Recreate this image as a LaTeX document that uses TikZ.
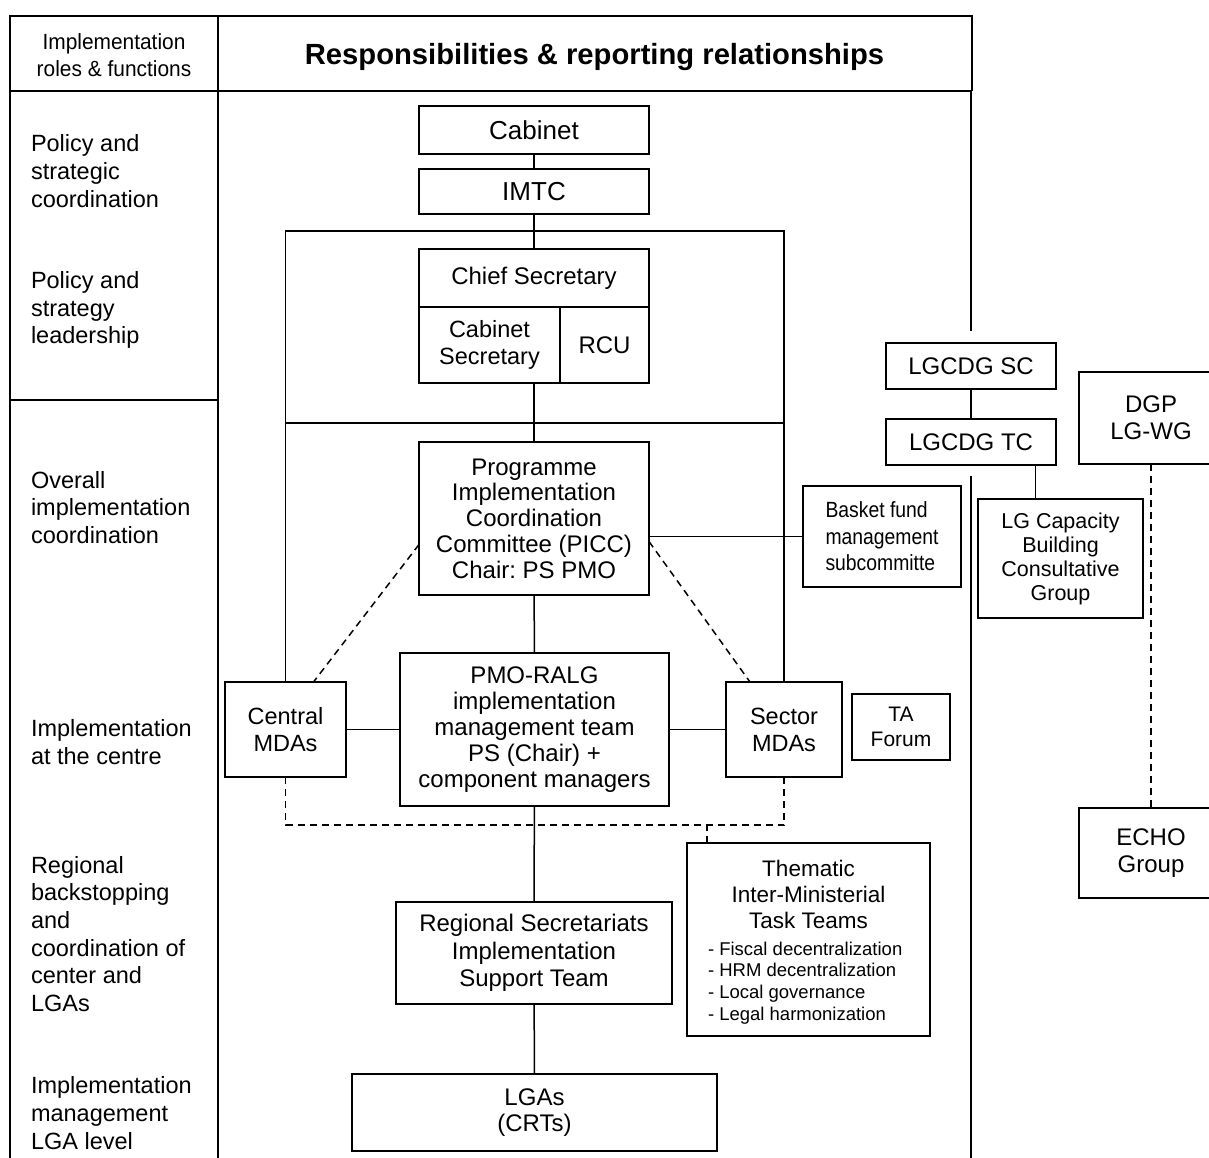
\documentclass[tikz,border=0pt]{standalone}
\usepackage{fontspec}
\setmainfont{Liberation Sans}
\newfontfamily\narrowfont[FakeStretch=0.88]{Liberation Sans}
\newfontfamily\hdrfont[FakeStretch=0.95]{Liberation Sans}
\usetikzlibrary{calc}
\frenchspacing

% \bx[options]{x1}{y1}{x2}{y2}{name}{text}: box given by its corners
\newcommand\bx[7][]{\node[box,#1,minimum width={(#4-#2)*1pt},minimum height={(#5-#3)*1pt}] (#6) at ({(#2+#4)/2},{(#3+#5)/2}) {#7};}

\begin{document}
\begin{tikzpicture}[x=1pt,y=-1pt,
  every node/.style={inner sep=0pt,outer sep=0pt},
  frame/.style={line width=1.6pt},
  box/.style={draw,line width=1.5pt,align=center,font=\fontsize{24}{26.5}\selectfont},
  link/.style={line width=1.5pt},
  dlink/.style={line width=1.5pt,dash pattern=on 7pt off 5pt},
  role/.style={anchor=west,align=left,font=\fontsize{23.5}{27.7}\selectfont}]
\useasboundingbox (0,0) rectangle (1209,1158);
\clip (0,0) rectangle (1209,1158);

% table frame
\draw[frame] (10,1170) -- (10,16) -- (972,16) -- (972,91);
\draw[frame] (10,91) -- (972,91);
\draw[frame] (218,16) -- (218,1170);
\draw[frame] (10,400) -- (218,400);
\draw[frame] (971,91) -- (971,331);
\draw[frame] (971,476) -- (971,1170);

% header
\node[font=\hdrfont\fontsize{22}{27}\selectfont,align=center] (hdrroles) at (114,55.5) {Implementation\\roles \& functions};
\node[font=\bfseries\fontsize{29.2}{32}\selectfont] (hdrtitle) at (594.5,57) {Responsibilities \& reporting relationships};

% roles and functions
\node[role] (role1) at (31,171) {Policy and\\strategic\\coordination};
\node[role] (role2) at (31,310) {Policy and\\strategy\\leadership};
\node[role] (role3) at (31,507.5) {Overall\\implementation\\coordination};
\node[role] (role4) at (31,742) {Implementation\\at the centre};
\node[role] (role5) at (31,934) {Regional\\backstopping\\and\\coordination of\\center and\\LGAs};
\node[role] (role6) at (31,1113) {Implementation\\management\\LGA level};

% central structure
\bx[font=\fontsize{26}{28}\selectfont]{419}{106}{649}{154}{cab}{Cabinet}
\bx[font=\fontsize{26}{28}\selectfont]{419}{169}{649}{214}{imtc}{IMTC}
\bx{419}{249}{649}{307}{chief}{Chief Secretary}
\bx[font=\fontsize{23.5}{27}\selectfont]{419}{307}{560}{383}{cabsec}{Cabinet\\Secretary}
\bx{560}{307}{649}{383}{rcu}{RCU}
\bx[font=\fontsize{24}{25.8}\selectfont]{419}{442}{649}{595}{picc}{Programme\\Implementation\\Coordination\\Committee (PICC)\\Chair: PS PMO}
\bx[align=left,font=\narrowfont\fontsize{22}{26.5}\selectfont]{803}{486}{961}{587}{bask}{Basket fund\\management\\subcommitte}
\bx[font=\fontsize{23.5}{27}\selectfont]{225}{682}{346}{777}{cmda}{Central\\MDAs}
\bx[font=\fontsize{24}{26}\selectfont]{400}{653}{669}{806}{pmo}{PMO-RALG\\implementation\\management team\\PS (Chair) +\\component managers}
\bx[font=\fontsize{23.5}{27}\selectfont]{726}{682}{842}{777}{smda}{Sector\\MDAs}
\bx[font=\fontsize{21}{25}\selectfont]{852}{694}{950}{760}{tafor}{TA\\Forum}
\bx{687}{843}{930}{1036}{them}{}
\node[align=center,font=\fontsize{22.5}{26}\selectfont] (themtitle) at (808.5,894.5) {Thematic\\Inter-Ministerial\\Task Teams};
\node[anchor=west,align=left,font=\fontsize{18.5}{21.7}\selectfont] (themlist) at (708,983) {- Fiscal decentralization\\- HRM decentralization\\- Local governance\\- Legal harmonization};
\bx[font=\fontsize{24}{27.5}\selectfont]{396}{902}{672}{1004}{reg}{Regional Secretariats\\Implementation\\Support Team}
\bx{352}{1074}{717}{1151}{lgas}{LGAs\\(CRTs)}

% development partner structures
\bx{886}{343}{1056}{389}{lgsc}{LGCDG SC}
\bx{886}{419}{1056}{465}{lgtc}{LGCDG TC}
\bx[font=\fontsize{21.5}{24}\selectfont]{978}{499}{1143}{618}{lgcap}{LG Capacity\\Building\\Consultative\\Group}
\bx[font=\fontsize{24}{27}\selectfont]{1079}{372}{1223}{464}{dgp}{DGP\\LG-WG}
\bx[font=\fontsize{24}{27}\selectfont]{1079}{808}{1223}{898}{echo}{ECHO\\Group}

% reporting lines
\coordinate (frTop) at (0,231);
\coordinate (frMid) at (0,423);
\coordinate (dashY) at (0,825);
\draw[link] (cab) -- (imtc);
\draw[link] (imtc) -- (chief);
\draw[link] (cmda.north) -- (cmda.north |- frTop) -- (smda.north |- frTop) -- (smda.north);
\draw[link] (cmda.north |- frMid) -- (smda.north |- frMid);
\draw[link] (picc.north) -- (picc.north |- cabsec.south);
\draw[link] (bask.west) -- (bask.west -| picc.east);
\draw[link] (picc) -- (pmo);
\draw[link] (cmda) -- (pmo);
\draw[link] (pmo) -- (smda);
\draw[link] (pmo) -- (reg);
\draw[link] (reg) -- (lgas);
\draw[dlink] ([yshift=-26pt]picc.west) -- ([xshift=28pt]cmda.north);
\draw[dlink] ([yshift=-23pt]picc.east) -- ([xshift=-34pt]smda.north);
\draw[dlink] (cmda.south) -- (cmda.south |- dashY) -- (smda.south |- dashY) -- (smda.south);
\path (them.north west) ++(20,0) coordinate (tk);
\draw[dlink] (tk) -- (tk |- dashY);
\draw[link] (lgsc) -- (lgtc);
\draw[link] ([xshift=-25pt]lgcap.north) -- ([xshift=-25pt]lgcap.north |- lgtc.south);
\draw[dlink] (dgp.south) -- (echo.north);
\end{tikzpicture}
\end{document}
